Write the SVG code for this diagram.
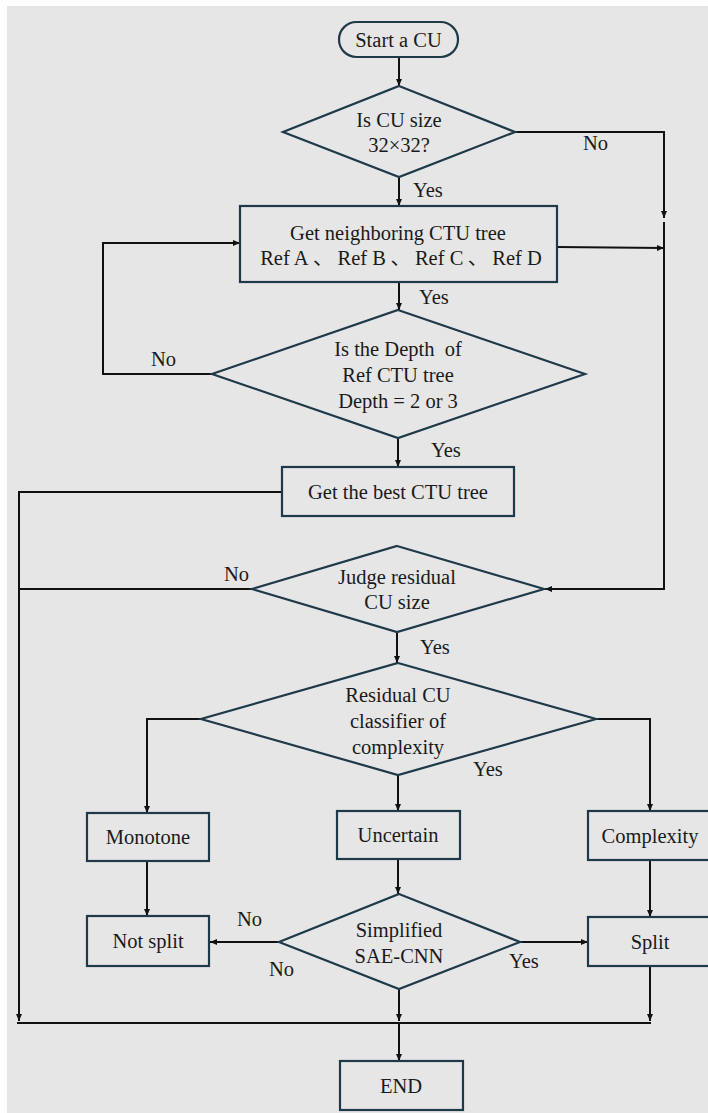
<svg xmlns="http://www.w3.org/2000/svg" width="708" height="1113" viewBox="0 0 708 1113">
<defs>
<style>
.n{fill:#e6e6e6;stroke:#1e3a48;stroke-width:2.2}
.c{fill:none;stroke:#111;stroke-width:2}
.t{font-family:'Liberation Serif',serif;font-size:20.5px;fill:#1a1a1a;text-anchor:middle}
.l{font-family:'Liberation Serif',serif;font-size:20.5px;fill:#1a1a1a}
.j{font-family:'Noto Sans CJK SC',sans-serif;font-size:20px}
</style>
<marker id="a" markerWidth="8" markerHeight="8" refX="7" refY="4" orient="auto" markerUnits="userSpaceOnUse">
<path d="M0,1 L7,4 L0,7 Z" fill="#111"/>
</marker>
</defs>
<rect x="0" y="0" width="708" height="1113" fill="#ffffff"/>
<rect x="7" y="6" width="701" height="1107" fill="#e6e6e6"/>

<g id="connectors">
<path class="c" d="M399,57 V86" marker-end="url(#a)"/>
<path class="c" d="M515,132 H664 V218" marker-end="url(#a)"/>
<path class="c" d="M664,222 V589 H545" marker-end="url(#a)"/>
<path class="c" d="M399,177 V206" marker-end="url(#a)"/>
<path class="c" d="M557,247 L664,248" marker-end="url(#a)"/>
<path class="c" d="M399,282 V310" marker-end="url(#a)"/>
<path class="c" d="M212,374 H103 V243 H240" marker-end="url(#a)"/>
<path class="c" d="M398,438 V467" marker-end="url(#a)"/>
<path class="c" d="M282,492 H19 V1021" marker-end="url(#a)"/>
<path class="c" d="M252,589 H19"/>
<path class="c" d="M397,632 V663" marker-end="url(#a)"/>
<path class="c" d="M201,719 H147 V813" marker-end="url(#a)"/>
<path class="c" d="M596,719 H650 V811" marker-end="url(#a)"/>
<path class="c" d="M398,775 V811" marker-end="url(#a)"/>
<path class="c" d="M147,861 V916" marker-end="url(#a)"/>
<path class="c" d="M398,859 V894" marker-end="url(#a)"/>
<path class="c" d="M650,860 V917" marker-end="url(#a)"/>
<path class="c" d="M279,942 H210" marker-end="url(#a)"/>
<path class="c" d="M520,942 H588" marker-end="url(#a)"/>
<path class="c" d="M650,966 V1021" marker-end="url(#a)"/>
<path class="c" d="M399,989 V1021" marker-end="url(#a)"/>
<path class="c" d="M17,1023 H651"/>
<path class="c" d="M399,1023 V1061" marker-end="url(#a)"/>
</g>

<g id="labels">
<text class="l" x="583" y="150">No</text>
<text class="l" x="413" y="197">Yes</text>
<text class="l" x="419" y="304">Yes</text>
<text class="l" x="151" y="366">No</text>
<text class="l" x="431" y="457">Yes</text>
<text class="l" x="224" y="581">No</text>
<text class="l" x="420" y="654">Yes</text>
<text class="l" x="473" y="776">Yes</text>
<text class="l" x="237" y="926">No</text>
<text class="l" x="269" y="976">No</text>
<text class="l" x="509" y="968">Yes</text>
</g>

<g id="start">
<rect class="n" x="339" y="22" width="119" height="35" rx="17.5"/>
<text class="t" x="398.5" y="47">Start a CU</text>
</g>
<g id="d-size">
<polygon class="n" points="399,86 515,132 399,177 283,132"/>
<text class="t" x="399" y="127">Is CU size</text>
<text class="t" x="399" y="152">32×32?</text>
</g>
<g id="get-neighbor">
<rect class="n" x="240" y="206" width="317" height="76"/>
<text class="t" x="398" y="240">Get neighboring CTU tree</text>
<text class="t" x="401" y="265" xml:space="preserve">Ref A<tspan class="j"> 、 </tspan>Ref B<tspan class="j"> 、 </tspan>Ref C<tspan class="j"> 、 </tspan>Ref D</text>
</g>
<g id="d-depth">
<polygon class="n" points="398,310 585,374 398,438 212,374"/>
<text class="t" x="398" y="356" xml:space="preserve">Is the Depth  of</text>
<text class="t" x="398" y="382">Ref CTU tree</text>
<text class="t" x="398" y="408">Depth = 2 or 3</text>
</g>
<g id="best">
<rect class="n" x="282" y="467" width="232" height="49"/>
<text class="t" x="398" y="499">Get the best CTU tree</text>
</g>
<g id="d-judge">
<polygon class="n" points="397,546 544,589 397,632 252,589"/>
<text class="t" x="397" y="584">Judge residual</text>
<text class="t" x="397" y="609">CU size</text>
</g>
<g id="d-classifier">
<polygon class="n" points="398,663 596,719 398,775 201,719"/>
<text class="t" x="398" y="702">Residual CU</text>
<text class="t" x="398" y="728">classifier of</text>
<text class="t" x="398" y="754">complexity</text>
</g>
<g id="monotone">
<rect class="n" x="87" y="813" width="122" height="48"/>
<text class="t" x="148" y="844">Monotone</text>
</g>
<g id="uncertain">
<rect class="n" x="337" y="811" width="123" height="48"/>
<text class="t" x="398" y="842">Uncertain</text>
</g>
<g id="complexity">
<rect class="n" x="588" y="811" width="124" height="49"/>
<text class="t" x="650" y="843">Complexity</text>
</g>
<g id="notsplit">
<rect class="n" x="87" y="916" width="122" height="50"/>
<text class="t" x="148" y="948">Not split</text>
</g>
<g id="d-sae">
<polygon class="n" points="399,894 520,942 399,989 279,942"/>
<text class="t" x="399" y="937">Simplified</text>
<text class="t" x="399" y="963">SAE-CNN</text>
</g>
<g id="split">
<rect class="n" x="588" y="917" width="124" height="49"/>
<text class="t" x="650" y="949">Split</text>
</g>
<g id="end">
<rect class="n" x="340" y="1061" width="123" height="49"/>
<text class="t" x="401" y="1093">END</text>
</g>
</svg>
